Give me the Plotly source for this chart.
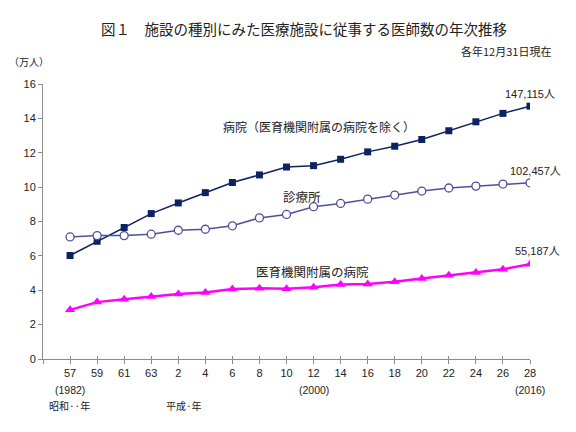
import plotly.graph_objects as go

years = ["57", "59", "61", "63", "2", "4", "6", "8", "10", "12", "14", "16",
         "18", "20", "22", "24", "26", "28"]
hospital = [6.02, 6.85, 7.65, 8.46, 9.08, 9.68, 10.27, 10.71, 11.17, 11.25, 11.62,
            12.05, 12.38, 12.77, 13.28, 13.80, 14.29, 14.71]
clinic = [7.10, 7.18, 7.18, 7.26, 7.49, 7.55, 7.75, 8.21, 8.41, 8.86, 9.05, 9.30,
          9.54, 9.77, 9.95, 10.06, 10.18, 10.25]
medschool = [2.86, 3.31, 3.47, 3.64, 3.78, 3.87, 4.07, 4.11, 4.09, 4.18, 4.33, 4.37,
             4.49, 4.68, 4.87, 5.03, 5.22, 5.52]
yticks = [0, 2, 4, 6, 8, 10, 12, 14, 16]

xs = list(range(len(years)))
FONT = "Liberation Sans, Noto Sans CJK JP, sans-serif"
JFONT = "Noto Sans CJK JP, sans-serif"

# page body has an 8px margin; build the figure so it lands where the reference is
OFF = 8
W, H = 576 - OFF, 432 - OFF
# plot area in reference pixels: x 43..530, y 84..359
L, R, T, B = 43 - OFF, W - (530 - OFF), 84 - OFF, H - (359 - OFF)
pw, ph = W - L - R, H - T - B
def px(xp): return (xp - OFF - L) / pw
def py(yp): return (H - B - (yp - OFF)) / ph

fig = go.Figure()
fig.add_trace(go.Scatter(x=xs, y=hospital, mode="lines+markers",
                         line=dict(color="#0b2360", width=1.5),
                         marker=dict(symbol="square", size=7, color="#0b2360"),
                         showlegend=False))
fig.add_trace(go.Scatter(x=xs, y=clinic, mode="lines+markers",
                         line=dict(color="#4f4f9c", width=1.5),
                         marker=dict(symbol="circle", size=8, color="white",
                                     line=dict(color="#4f4f9c", width=1.3)),
                         showlegend=False))
fig.add_trace(go.Scatter(x=xs, y=medschool, mode="lines+markers",
                         line=dict(color="#ff00ff", width=2.5),
                         marker=dict(symbol="triangle-up", size=9, color="#ff00ff"),
                         showlegend=False))

annots = []
def txt(x, y, s, size=11, xref="paper", yref="paper", xanchor="left", font=JFONT, **kw):
    annots.append(dict(x=x, y=y, xref=xref, yref=yref, text=s, showarrow=False,
                       xanchor=xanchor, yanchor="middle",
                       font=dict(size=size, color="#222", family=font), **kw))

txt(px(304), py(28), "図１　施設の種別にみた医療施設に従事する医師数の年次推移", size=14.5, xanchor="center")
txt(px(553), py(51), "各年12月31日現在", size=11, xanchor="right")
txt(px(7), py(62), "（万人）", size=10)

# data labels
txt(px(530), py(94), "147,115人", size=11, xanchor="center", font=FONT)
txt(px(535), py(171), "102,457人", size=11, xanchor="center", font=FONT)
txt(px(537), py(251), "55,187人", size=11, xanchor="center", font=FONT)

# series labels
txt(px(319), py(126), "病院（医育機関附属の病院を除く）", size=12, xanchor="center")
txt(px(302), py(196), "診療所", size=12.5, xanchor="center")
txt(px(312), py(271), "医育機関附属の病院", size=12.5, xanchor="center")

# bottom axis notes
txt(0, py(390), "(1982)", size=10.5, xref="x", xanchor="center", font=FONT)
txt(9, py(390), "(2000)", size=10.5, xref="x", xanchor="center", font=FONT)
txt(17, py(390), "(2016)", size=10.5, xref="x", xanchor="center", font=FONT)
txt(px(47), py(405), "昭和··年", size=10)
txt(px(164), py(405), "平成·年", size=10)

axcol = "#8c8c8c"
fig.update_layout(
    width=W, height=H,
    margin=dict(l=L, r=R, t=T, b=B),
    paper_bgcolor="white", plot_bgcolor="white",
    annotations=annots,
    font=dict(family=FONT, size=11, color="#222"),
    xaxis=dict(range=[-1, 17], tickmode="array", tickvals=[-1] + xs, ticktext=[""] + years,
               showgrid=False, zeroline=False, showline=True, linecolor=axcol,
               ticks="outside", ticklen=4, tickcolor=axcol,
               tickfont=dict(size=11, family=FONT), fixedrange=True),
    xaxis2=dict(range=[-1, 17], overlaying="x", side="bottom", anchor="y",
                tickmode="array", tickvals=[-1] + xs, ticktext=[""] * (len(xs) + 1),
                showgrid=False, zeroline=False, showline=False,
                ticks="inside", ticklen=3, tickcolor=axcol, fixedrange=True),
    yaxis=dict(range=[0, 16], tickvals=yticks, showgrid=False, zeroline=False,
               showline=True, linecolor=axcol, ticks="outside", ticklen=4,
               tickcolor=axcol, tickfont=dict(size=11, family=FONT), fixedrange=True),
)
# dummy invisible trace to activate xaxis2
fig.add_trace(go.Scatter(x=[None], y=[None], xaxis="x2", showlegend=False, hoverinfo="skip"))

fig.write_html("out.html")
